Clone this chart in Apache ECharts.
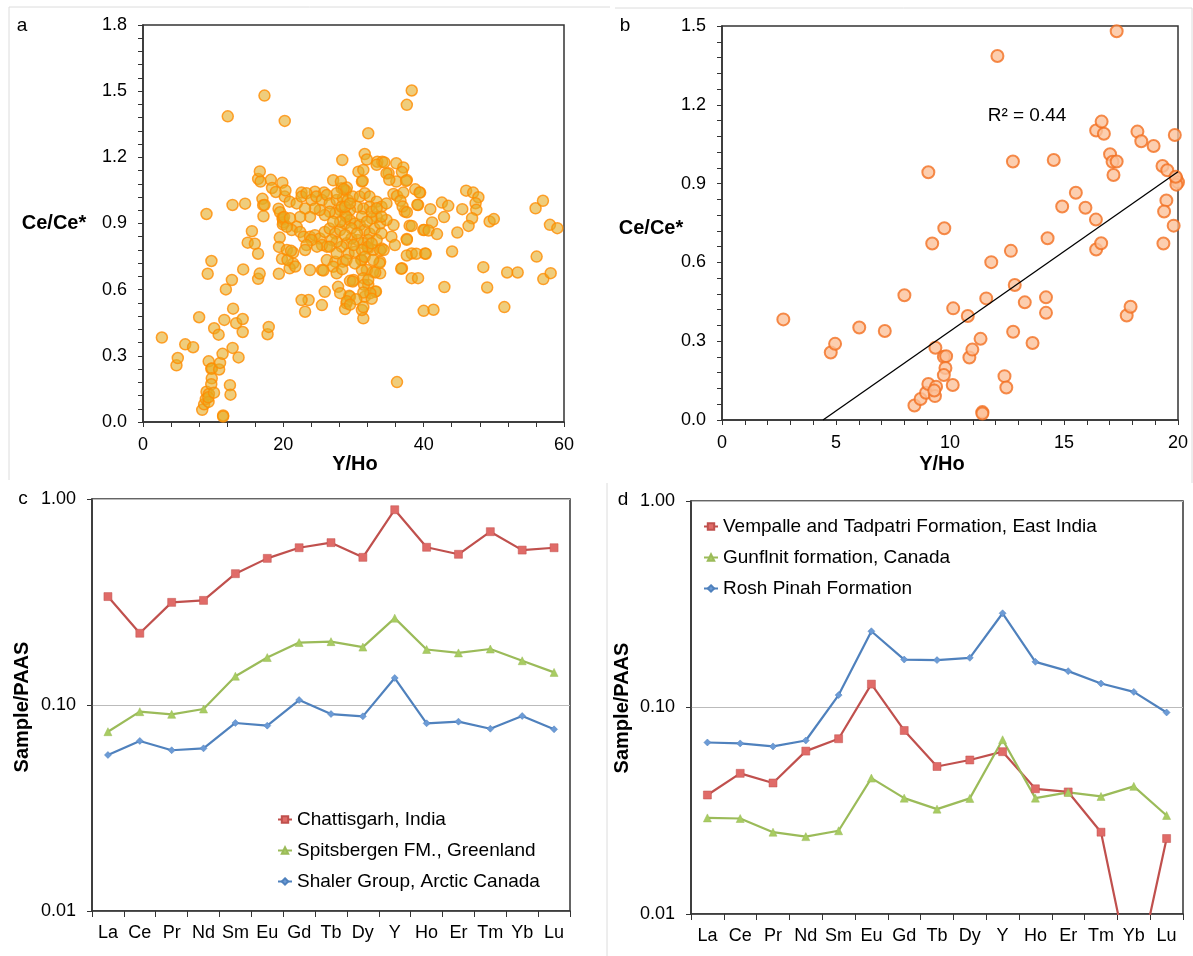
<!DOCTYPE html>
<html>
<head>
<meta charset="utf-8">
<title>Ce anomaly and REE patterns</title>
<script src="https://cdn.jsdelivr.net/npm/echarts@6/dist/echarts.min.js"></script>
<style>
  html, body { margin: 0; padding: 0; background: #fff; }
  #main { width: 1193px; height: 956px; }
</style>
</head>
<body>
<div id="main"></div>
<script>
// ---- data ----
// Y/Ho vs Ce/Ce* samples with Y/Ho <= 20 (shown in both panel a and b)
const ptsLow = [
  [2.69,0.383],[4.77,0.257],[4.96,0.290],[6.02,0.352],[7.14,0.339],[8.0,0.475],[8.44,0.055],[8.71,0.080],
  [8.95,0.104],[9.05,0.137],[9.05,0.943],[9.22,0.672],[9.36,0.275],[9.39,0.127],[9.34,0.091],[9.31,0.112],
  [9.75,0.730],[9.73,0.241],[9.83,0.243],[9.80,0.198],[9.73,0.171],[10.12,0.133],[10.14,0.425],[10.78,0.396],
  [10.85,0.238],[10.98,0.268],[11.34,0.309],[11.42,0.030],[11.42,0.025],[11.59,0.463],[11.81,0.601],[12.08,1.386],
  [12.39,0.167],[12.47,0.124],[12.67,0.644],[12.76,0.984],[12.77,0.336],[12.84,0.514],[13.28,0.448],[13.62,0.293],
  [14.21,0.467],[14.21,0.408],[14.28,0.692],[14.55,0.990],[14.92,0.813],[15.52,0.865],[15.94,0.808],[16.40,0.763],
  [16.41,0.649],[16.63,0.673],[16.41,1.102],[16.65,1.136],[16.75,1.090],[17.02,1.012],[17.13,0.983],[17.31,0.984],
  [17.17,0.933],[17.31,1.480],[17.75,0.398],[17.92,0.431],[18.22,1.098],[18.39,1.061],[18.93,1.043],[19.32,0.967],
  [19.53,0.951],[19.49,0.836],[19.39,0.794],[19.36,0.672],[19.81,0.740],[19.86,1.085],[19.93,0.919],[20.0,0.905],
  [19.93,0.896],[19.90,0.926]
];
// samples with Y/Ho > 20 (panel a only)
const ptsHigh = [
  [28.4,1.188],[31.6,1.215],[31.9,1.19],[33.4,1.18],[34.1,1.18],[35.0,1.128],[22.6,1.04],[24.5,1.044],
  [25.8,1.04],[27.1,1.096],[28.3,1.06],[28.9,1.049],[30.7,1.135],[31.2,1.09],[34.7,1.127],[36.1,1.09],
  [37.6,1.097],[38.8,1.055],[39.5,1.04],[39.2,0.984],[37.3,0.954],[38.0,0.89],[39.95,0.87],[37.6,0.83],
  [38.3,0.764],[40.2,0.764],[36.9,0.697],[38.3,0.652],[39.2,0.652],[35.7,0.893],[35.4,0.84],[35.9,0.802],
  [34.0,0.787],
  [20.2,1.022],[20.9,0.999],[21.9,0.991],[22.6,1.022],[23.3,1.037],[24.0,1.006],[24.7,1.022],[25.5,1.006],
  [26.2,1.029],[26.6,0.991],[27.6,1.006],[28.5,1.014],[29.2,1.006],[29.9,1.022],[30.9,1.022],[31.6,1.037],
  [32.3,1.022],[33.3,0.999],[34.0,0.976],[34.7,0.991],[32.3,0.976],[31.4,0.968],[30.5,0.976],[29.5,0.961],
  [28.8,0.938],[28.1,0.961],[27.4,0.946],[26.6,0.953],[25.9,0.938],[25.2,0.961],[24.5,0.968],[23.8,0.93],
  [23.1,0.968],[22.4,0.93],[21.9,0.885],[21.2,0.87],[20.1,0.93],[20.5,0.885],[22.4,0.862],[22.9,0.84],
  [23.8,0.84],[24.5,0.847],[25.2,0.832],[25.9,0.862],[26.6,0.877],[27.4,0.855],[28.1,0.87],[28.8,0.9],
  [29.5,0.915],[30.2,0.9],[30.9,0.893],[31.6,0.87],[32.3,0.855],[33.0,0.877],[33.8,0.9],[33.3,0.93],
  [32.6,0.923],[32.1,0.825],[31.4,0.81],[30.6,0.825],[29.7,0.832],[29.0,0.81],[28.3,0.795],[27.6,0.817],
  [26.9,0.825],[26.2,0.795],[25.5,0.802],[24.8,0.795],[24.0,0.825],[23.3,0.802],[23.1,0.78],[26.2,0.734],
  [27.4,0.727],[28.5,0.727],[29.3,0.764],[30.2,0.772],[31.2,0.734],[32.1,0.787],[32.8,0.78],[33.8,0.727],
  [33.8,0.674],[32.8,0.681],[31.9,0.689],[31.2,0.689],[30.0,0.644],[31.4,0.652],[32.1,0.621],[33.1,0.591],
  [31.6,0.568],[29.5,0.568],[29.0,0.538],[27.8,0.613],[25.9,0.59],[25.5,0.53],[23.6,0.553],[23.1,0.5],
  [22.6,0.553],[21.4,0.719],[20.9,0.697],[23.8,0.689],[25.5,0.689],[27.1,0.704],[27.6,0.674],[31.4,0.47],
  [31.2,0.508],
  [20.5,0.78],[20.6,0.735],[21.4,0.768],[20.95,0.924],[20.3,1.05],
  [38.3,1.503],[37.6,1.438],[20.2,1.365],[32.1,1.309],[36.2,0.181],
  [31.4,1.143],[31.3,1.093],[33.3,1.166],[34.4,1.177],[35.1,1.098],[36.1,1.173],[37.1,1.154],[36.9,1.133],
  [37.5,1.093],[28.2,1.09],[29.05,1.063],[28.6,1.056],[35.7,1.034],[36.2,1.025],[37.1,1.04],[39.4,1.04],
  [36.7,1.003],[37.0,0.977],[37.6,0.951],[39.1,0.985],[40.95,0.965],[42.6,0.995],[43.5,0.98],[42.9,0.929],
  [41.2,0.905],[40.1,0.871],[40.7,0.868],[41.9,0.852],[38.3,0.889],[37.6,0.826],[44.8,0.859],[45.5,0.965],
  [46.05,1.049],[47.05,1.04],[47.8,1.019],[47.4,0.992],[47.5,0.962],[46.9,0.924],[46.4,0.889],[49.4,0.909],
  [50.0,0.92],[55.95,0.969],[57.0,1.003],[58.0,0.894],[59.05,0.879],[37.6,0.755],[38.95,0.763],[40.3,0.763],
  [44.05,0.773],[36.8,0.695],[42.95,0.612],[40.0,0.504],[41.4,0.509],[48.5,0.702],[49.05,0.61],[51.5,0.521],
  [51.9,0.678],[53.4,0.678],[56.1,0.75],[57.05,0.648],[58.1,0.675],
  [33.2,0.592],[32.4,0.584],[32.6,0.559],[31.5,0.622],[31.4,0.587],[31.4,0.521],[29.5,0.64],[29.9,0.637],
  [29.4,0.572],[29.05,0.547],[30.4,0.557],[28.8,0.512],[29.5,0.532],[28.1,0.584],[33.8,0.778],[33.7,0.72],
  [33.1,0.678],[32.1,0.645],[31.1,0.735],[32.0,0.793],[28.4,0.693],[25.7,0.687],[21.7,0.705],[21.1,0.776],
  // dense core
  [27.6,1.037],[28.3,0.976],[29.0,0.931],[29.7,0.878],[30.5,0.855],[31.2,0.931],[31.9,0.908],[32.6,0.953],
  [33.3,0.969],[34.0,0.855],[33.3,0.825],[32.6,0.81],[31.2,0.78],[30.0,0.802],[28.8,0.848],[28.1,0.908],
  [27.1,0.908],[26.6,0.795],[27.6,0.765],[29.0,0.734],[30.2,0.719],[31.6,0.749],[32.8,0.734],[34.3,0.78],
  [34.7,0.916],[34.0,0.931],[28.8,0.976],[29.5,0.991]
];
// linear fit shown in panel b (R² = 0.44)
const trendB = [[4.43, 0], [20, 0.945]];

// REE normalised to PAAS
const ree = ['La','Ce','Pr','Nd','Sm','Eu','Gd','Tb','Dy','Y','Ho','Er','Tm','Yb','Lu'];
const chattisgarh = [0.336,0.223,0.315,0.322,0.434,0.515,0.580,0.614,0.521,0.887,0.583,0.539,0.694,0.565,0.580];
const spitsbergen = [0.0742,0.0928,0.0901,0.0956,0.138,0.170,0.201,0.203,0.191,0.264,0.186,0.179,0.187,0.164,0.144];
const shaler = [0.0572,0.0669,0.0603,0.0616,0.0818,0.0794,0.1057,0.0904,0.0881,0.1352,0.0815,0.0830,0.0767,0.0884,0.0762];
const vempalle = [0.0377,0.048,0.0431,0.0615,0.0706,0.1298,0.0774,0.0518,0.0557,0.0611,0.0404,0.039,0.0249,0.0043,0.0232];
const gunflint = [0.0292,0.0290,0.0249,0.0237,0.0253,0.0455,0.0364,0.0322,0.0363,0.0698,0.0364,0.0388,0.0371,0.0415,0.030];
const roshPinah = [0.0677,0.0670,0.0648,0.0692,0.1148,0.234,0.1707,0.1696,0.174,0.286,0.1664,0.150,0.1306,0.119,0.0946];

// ---- chart ----
var chart = echarts.init(document.getElementById('main'));
const font = 'Liberation Sans, Arial, Helvetica, sans-serif';
const axisCol = '#333';

function valAxis(grid, min, max, interval, digits, isX) {
  return {
    gridIndex: grid, type: 'value', min: min, max: max, interval: interval,
    axisLine: { show: true, onZero: false, lineStyle: { color: axisCol, width: 1.5 } },
    axisTick: { show: true, inside: false, length: 5, lineStyle: { color: axisCol } },
    minorTick: { show: true, splitNumber: 5, length: 5, lineStyle: { color: axisCol } },
    splitLine: { show: false },
    axisLabel: {
      fontSize: 18, color: '#000', fontFamily: font, margin: isX ? 14 : 16,
      formatter: function (v) { return digits ? v.toFixed(digits) : String(v); }
    }
  };
}
function catAxis(grid) {
  return {
    gridIndex: grid, type: 'category', data: ree, boundaryGap: true,
    axisLine: { show: true, lineStyle: { color: axisCol, width: 1.5 } },
    axisTick: { show: true, interval: 0, alignWithLabel: false, length: 6, lineStyle: { color: axisCol } },
    axisLabel: { interval: 0, fontSize: 18, color: '#000', fontFamily: font, margin: 13 },
    splitLine: { show: false }
  };
}
function logAxis(grid) {
  return {
    gridIndex: grid, type: 'log', logBase: 10, min: 0.01, max: 1,
    axisLine: { show: true, lineStyle: { color: axisCol, width: 1.5 } },
    axisTick: { show: true, length: 5, lineStyle: { color: axisCol } },
    splitLine: { show: true, lineStyle: { color: '#bbb', width: 1 } },
    axisLabel: { fontSize: 18, color: '#000', fontFamily: font, margin: 16,
      formatter: function (v) { return v.toFixed(2); } }
  };
}
function reeLine(name, data, grid, kind) {
  const st = {
    red:   { line: '#C0504D', fill: '#E06B68', symbol: 'rect', size: 8 },
    green: { line: '#9BBB59', fill: '#A8CC62', symbol: 'triangle', size: 8 },
    blue:  { line: '#4F81BD', fill: '#6C9BD6', symbol: 'diamond', size: 7 }
  }[kind];
  return {
    name: name, type: 'line', xAxisIndex: grid, yAxisIndex: grid, data: data,
    symbol: st.symbol, symbolSize: st.size, showSymbol: true, clip: true,
    lineStyle: { color: st.line, width: 2.2 },
    itemStyle: { color: st.fill, borderColor: st.line, borderWidth: 0.5 }
  };
}
const gridBase = { show: true, borderColor: '#333', borderWidth: 1.5, backgroundColor: 'transparent',
  containLabel: false, outerBoundsMode: 'none' };
const legendBase = {
  orient: 'vertical', itemGap: 12, itemWidth: 14, itemHeight: 8,
  textStyle: { fontSize: 19, color: '#000', fontFamily: font }
};
function label(text, x, y, opts) {
  opts = opts || {};
  return {
    type: 'text', x: x, y: y, rotation: opts.rot || 0, z: 10,
    style: { text: text, fill: '#000', textAlign: 'center', verticalAlign: 'middle',
      font: (opts.bold ? 'bold ' : '') + (opts.size || 18) + 'px ' + font }
  };
}
function frameLine(x1, y1, x2, y2) {
  return { type: 'line', shape: { x1: x1, y1: y1, x2: x2, y2: y2 }, style: { stroke: '#dcdcdc', lineWidth: 1 }, z: 0 };
}

chart.setOption({
  animation: false,
  backgroundColor: '#fff',
  textStyle: { fontFamily: font },
  grid: [
    Object.assign({ left: 143, top: 25, width: 421, height: 397 }, gridBase),
    Object.assign({ left: 722, top: 26, width: 456, height: 394 }, gridBase),
    Object.assign({ left: 92, top: 499, width: 478, height: 412 }, gridBase),
    Object.assign({ left: 691, top: 501, width: 492, height: 413 }, gridBase)
  ],
  xAxis: [
    valAxis(0, 0, 60, 20, 0, true),
    valAxis(1, 0, 20, 5, 0, true),
    catAxis(2),
    catAxis(3)
  ],
  yAxis: [
    valAxis(0, 0, 1.8, 0.3, 1, false),
    valAxis(1, 0, 1.5, 0.3, 1, false),
    logAxis(2),
    logAxis(3)
  ],
  legend: [
    Object.assign({ data: ['Chattisgarh, India', 'Spitsbergen FM., Greenland', 'Shaler Group, Arctic Canada'],
      left: 272, top: 805 }, legendBase),
    Object.assign({ data: ['Vempalle and Tadpatri Formation, East India', 'Gunflnit formation, Canada', 'Rosh Pinah Formation'],
      left: 698, top: 512 }, legendBase)
  ],
  series: [
    {
      type: 'scatter', xAxisIndex: 0, yAxisIndex: 0, data: ptsLow.concat(ptsHigh),
      symbolSize: 11,
      itemStyle: { color: 'rgba(228,172,36,0.75)', borderColor: '#FF8C00', borderWidth: 1.5 }
    },
    {
      type: 'scatter', xAxisIndex: 1, yAxisIndex: 1, data: ptsLow,
      symbolSize: 12,
      itemStyle: { color: '#FBC29B', borderColor: '#F36F21', borderWidth: 2 }
    },
    {
      type: 'line', xAxisIndex: 1, yAxisIndex: 1, data: trendB, z: 5,
      showSymbol: false, symbol: 'none', lineStyle: { color: '#000', width: 1.3 }
    },
    reeLine('Chattisgarh, India', chattisgarh, 2, 'red'),
    reeLine('Spitsbergen FM., Greenland', spitsbergen, 2, 'green'),
    reeLine('Shaler Group, Arctic Canada', shaler, 2, 'blue'),
    reeLine('Vempalle and Tadpatri Formation, East India', vempalle, 3, 'red'),
    reeLine('Gunflnit formation, Canada', gunflint, 3, 'green'),
    reeLine('Rosh Pinah Formation', roshPinah, 3, 'blue')
  ],
  graphic: [
    frameLine(9, 7, 610, 7), frameLine(9, 7, 9, 480),
    frameLine(615, 8, 1192, 8), frameLine(1192, 8, 1192, 483),
    frameLine(607, 483, 607, 956),
    label('a', 22, 26, { size: 19 }), label('b', 625, 26, { size: 19 }),
    label('c', 23, 499, { size: 19 }), label('d', 623, 500, { size: 19 }),
    label('Ce/Ce*', 54, 223, { bold: true, size: 20 }),
    label('Ce/Ce*', 651, 228, { bold: true, size: 20 }),
    label('Y/Ho', 355, 464, { bold: true, size: 20 }),
    label('Y/Ho', 942, 464, { bold: true, size: 20 }),
    label('R² = 0.44', 1027, 116, { size: 19 }),
    label('Sample/PAAS', 22, 707, { bold: true, size: 20, rot: Math.PI / 2 }),
    label('Sample/PAAS', 622, 708, { bold: true, size: 20, rot: Math.PI / 2 })
  ]
});
</script>
</body>
</html>
